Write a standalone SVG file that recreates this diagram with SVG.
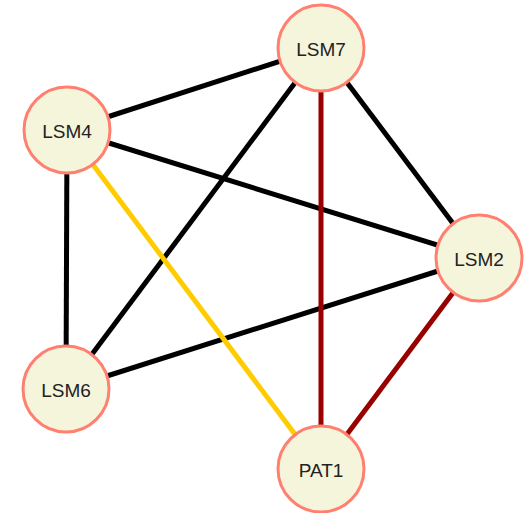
<svg xmlns="http://www.w3.org/2000/svg" width="525" height="513" viewBox="0 0 525 513">
  <style>
    .edge { stroke-width: 5; fill: none; }
    .plain { stroke: #000000; }
    .gold { stroke: #ffcc00; }
    .dark { stroke: #990000; }
    .node circle { fill: #f5f5dc; stroke: #ff8070; stroke-width: 3; }
    .node text { font-family: "Liberation Sans", Arial, sans-serif; font-size: 19px; fill: #222222; text-anchor: middle; dominant-baseline: central; }
  </style>
  <rect width="525" height="513" fill="#ffffff"/>
  <g id="edges">
    <line class="edge plain" x1="321" y1="48" x2="67" y2="130"/>
    <line class="edge plain" x1="321" y1="48" x2="66" y2="389"/>
    <line class="edge plain" x1="321" y1="48" x2="479" y2="258"/>
    <line class="edge plain" x1="67" y1="130" x2="479" y2="258"/>
    <line class="edge plain" x1="67" y1="130" x2="66" y2="389"/>
    <line class="edge plain" x1="66" y1="389" x2="479" y2="258"/>
    <line class="edge gold" x1="67" y1="130" x2="321" y2="469"/>
    <line class="edge dark" x1="321" y1="48" x2="321" y2="469"/>
    <line class="edge dark" x1="479" y1="258" x2="321" y2="469"/>
  </g>
  <g id="LSM7" class="node"><circle cx="321" cy="48" r="43"/><text x="321" y="49">LSM7</text></g>
  <g id="LSM4" class="node"><circle cx="67" cy="130" r="43"/><text x="67" y="131">LSM4</text></g>
  <g id="LSM2" class="node"><circle cx="479" cy="258" r="43"/><text x="479" y="259">LSM2</text></g>
  <g id="LSM6" class="node"><circle cx="66" cy="389" r="43"/><text x="66" y="390">LSM6</text></g>
  <g id="PAT1" class="node"><circle cx="321" cy="469" r="43"/><text x="321" y="470">PAT1</text></g>
</svg>
